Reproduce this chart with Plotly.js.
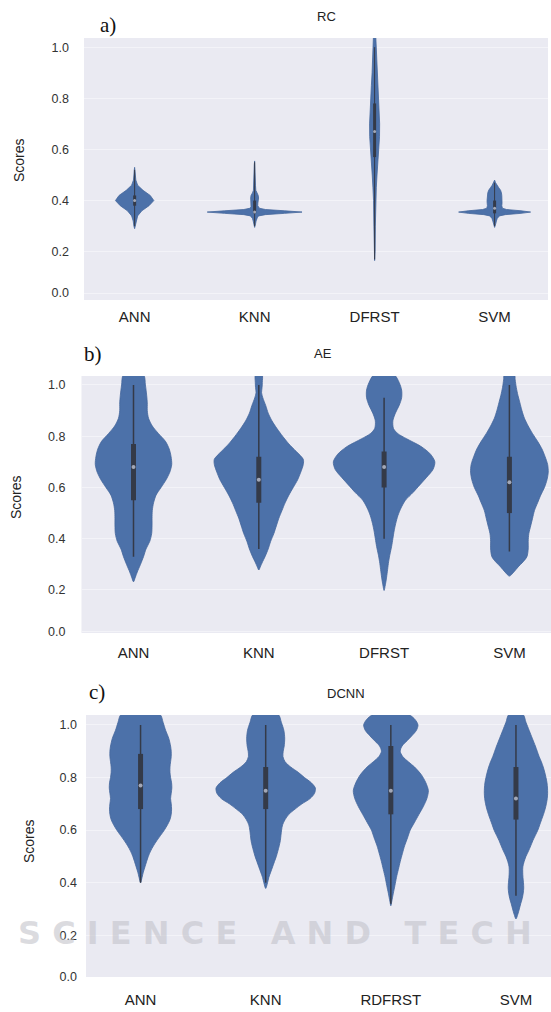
<!DOCTYPE html>
<html><head><meta charset="utf-8">
<script src="https://cdn.plot.ly/plotly-3.0.1.min.js"></script>
<style>html,body{margin:0;padding:0;background:#fff}#chart{width:551px;height:1012px}</style>
</head><body><div id="chart"></div>
<script>
// ---------------- DATA ----------------
const modelsA = ['ANN', 'KNN', 'DFRST', 'SVM'];
const modelsB = ['ANN', 'KNN', 'DFRST', 'SVM'];
const modelsC = ['ANN', 'KNN', 'RDFRST', 'SVM'];
const titles = ['RC', 'AE', 'DCNN'];
const panelTags = ['a)', 'b)', 'c)'];
const yTickVals = [0.2, 0.4, 0.6, 0.8, 1.0];
const yTickText = ['0.2', '0.4', '0.6', '0.8', '1.0'];

// violin density profiles: score levels and half-widths (category units)
// a) RC
const rcAnnScore = [0.29, 0.30, 0.32, 0.34, 0.36, 0.38, 0.40, 0.42, 0.44, 0.46, 0.48, 0.50, 0.52, 0.53];
const rcAnnWidth = [0, 0.006, 0.012, 0.025, 0.06, 0.12, 0.16, 0.13, 0.07, 0.025, 0.01, 0.006, 0.003, 0];
const rcKnnScore = [0.295, 0.30, 0.31, 0.32, 0.33, 0.335, 0.34, 0.345, 0.35, 0.355, 0.36, 0.365, 0.37, 0.375, 0.38, 0.39, 0.40, 0.41, 0.42, 0.43, 0.44, 0.46, 0.48, 0.50, 0.52, 0.54, 0.555];
const rcKnnWidth = [0, 0.004, 0.008, 0.012, 0.018, 0.024, 0.035, 0.09, 0.25, 0.395, 0.25, 0.09, 0.04, 0.03, 0.026, 0.027, 0.032, 0.033, 0.03, 0.018, 0.01, 0.007, 0.006, 0.006, 0.005, 0.003, 0];
const rcDfrScore = [0.165, 0.2, 0.3, 0.4, 0.45, 0.5, 0.55, 0.6, 0.65, 0.7, 0.75, 0.8, 0.85, 0.9, 0.95, 1.0, 1.04];
const rcDfrWidth = [0, 0.004, 0.006, 0.009, 0.014, 0.02, 0.028, 0.036, 0.041, 0.042, 0.038, 0.033, 0.027, 0.021, 0.016, 0.012, 0.01];
const rcSvmScore = [0.295, 0.30, 0.31, 0.32, 0.33, 0.34, 0.345, 0.35, 0.355, 0.36, 0.365, 0.37, 0.38, 0.39, 0.40, 0.41, 0.42, 0.43, 0.44, 0.45, 0.46, 0.47, 0.48];
const rcSvmWidth = [0, 0.005, 0.01, 0.015, 0.022, 0.04, 0.09, 0.22, 0.3, 0.22, 0.1, 0.065, 0.06, 0.062, 0.063, 0.062, 0.06, 0.057, 0.05, 0.035, 0.02, 0.008, 0];
const rcQ1 = [0.38, 0.35, 0.57, 0.35];
const rcMed = [0.40, 0.355, 0.67, 0.37];
const rcQ3 = [0.42, 0.40, 0.78, 0.40];
const rcLo = [0.30, 0.30, 0.17, 0.30];
const rcHi = [0.52, 0.55, 1.0, 0.47];

// b) AE
const aeAnnScore = [0.232, 0.25, 0.27, 0.30, 0.33, 0.36, 0.39, 0.42, 0.45, 0.48, 0.51, 0.54, 0.57, 0.60, 0.63, 0.66, 0.69, 0.72, 0.75, 0.78, 0.81, 0.84, 0.87, 0.90, 0.93, 0.96, 1.0, 1.04];
const aeAnnWidth = [0, 0.015, 0.03, 0.056, 0.08, 0.1, 0.13, 0.145, 0.148, 0.148, 0.15, 0.16, 0.18, 0.22, 0.26, 0.29, 0.305, 0.3, 0.285, 0.255, 0.2, 0.15, 0.12, 0.11, 0.11, 0.105, 0.095, 0.08];
const aeKnnScore = [0.278, 0.29, 0.31, 0.33, 0.36, 0.39, 0.42, 0.45, 0.48, 0.51, 0.54, 0.57, 0.60, 0.63, 0.66, 0.69, 0.71, 0.74, 0.77, 0.80, 0.83, 0.86, 0.89, 0.92, 0.95, 0.97, 0.99, 1.01, 1.04];
const aeKnnWidth = [0, 0.012, 0.03, 0.05, 0.075, 0.095, 0.12, 0.14, 0.16, 0.185, 0.21, 0.24, 0.275, 0.31, 0.335, 0.355, 0.355, 0.3, 0.24, 0.19, 0.145, 0.105, 0.075, 0.055, 0.032, 0.022, 0.026, 0.028, 0.026];
const aeDfrScore = [0.198, 0.22, 0.25, 0.28, 0.31, 0.34, 0.37, 0.40, 0.43, 0.46, 0.49, 0.52, 0.55, 0.58, 0.61, 0.64, 0.67, 0.70, 0.73, 0.76, 0.79, 0.81, 0.83, 0.86, 0.89, 0.92, 0.95, 0.98, 1.01, 1.04];
const aeDfrWidth = [0, 0.01, 0.02, 0.028, 0.036, 0.047, 0.06, 0.07, 0.08, 0.093, 0.11, 0.135, 0.17, 0.23, 0.285, 0.34, 0.39, 0.405, 0.37, 0.295, 0.18, 0.11, 0.075, 0.07, 0.09, 0.12, 0.14, 0.14, 0.12, 0.08];
const aeSvmScore = [0.254, 0.27, 0.29, 0.31, 0.33, 0.36, 0.39, 0.42, 0.45, 0.48, 0.51, 0.54, 0.57, 0.60, 0.63, 0.66, 0.69, 0.72, 0.75, 0.78, 0.81, 0.84, 0.87, 0.90, 0.93, 0.96, 0.99, 1.02, 1.04];
const aeSvmWidth = [0, 0.035, 0.07, 0.11, 0.14, 0.15, 0.15, 0.155, 0.17, 0.185, 0.2, 0.225, 0.25, 0.28, 0.3, 0.31, 0.305, 0.285, 0.26, 0.225, 0.185, 0.15, 0.12, 0.1, 0.084, 0.068, 0.055, 0.046, 0.04];
const aeQ1 = [0.55, 0.54, 0.60, 0.50];
const aeMed = [0.68, 0.63, 0.68, 0.62];
const aeQ3 = [0.77, 0.72, 0.74, 0.72];
const aeLo = [0.33, 0.36, 0.40, 0.35];
const aeHi = [1.0, 1.0, 0.95, 1.0];

// c) DCNN
const dcAnnScore = [0.40, 0.42, 0.44, 0.46, 0.48, 0.50, 0.52, 0.54, 0.56, 0.58, 0.60, 0.62, 0.64, 0.66, 0.68, 0.70, 0.72, 0.74, 0.76, 0.78, 0.80, 0.82, 0.84, 0.86, 0.88, 0.90, 0.92, 0.95, 0.98, 1.01, 1.04];
const dcAnnWidth = [0, 0.012, 0.022, 0.035, 0.048, 0.062, 0.08, 0.103, 0.13, 0.16, 0.19, 0.215, 0.235, 0.245, 0.248, 0.245, 0.24, 0.245, 0.25, 0.248, 0.24, 0.235, 0.235, 0.24, 0.245, 0.245, 0.24, 0.225, 0.2, 0.18, 0.155];
const dcKnnScore = [0.378, 0.40, 0.42, 0.44, 0.46, 0.48, 0.50, 0.52, 0.54, 0.56, 0.58, 0.60, 0.62, 0.64, 0.66, 0.68, 0.70, 0.72, 0.74, 0.76, 0.78, 0.80, 0.82, 0.84, 0.86, 0.88, 0.90, 0.92, 0.95, 0.98, 1.01, 1.04];
const dcKnnWidth = [0, 0.015, 0.025, 0.04, 0.055, 0.07, 0.085, 0.097, 0.108, 0.117, 0.122, 0.127, 0.135, 0.155, 0.185, 0.235, 0.29, 0.355, 0.39, 0.397, 0.365, 0.31, 0.26, 0.2, 0.155, 0.138, 0.14, 0.148, 0.152, 0.145, 0.125, 0.1];
const dcRdfScore = [0.312, 0.33, 0.36, 0.39, 0.42, 0.45, 0.48, 0.51, 0.54, 0.57, 0.60, 0.63, 0.66, 0.69, 0.72, 0.75, 0.78, 0.81, 0.84, 0.86, 0.88, 0.90, 0.92, 0.94, 0.96, 0.98, 1.00, 1.02, 1.04];
const dcRdfWidth = [0, 0.008, 0.02, 0.033, 0.045, 0.06, 0.075, 0.092, 0.11, 0.133, 0.155, 0.19, 0.225, 0.26, 0.288, 0.3, 0.28, 0.245, 0.19, 0.14, 0.095, 0.075, 0.09, 0.13, 0.17, 0.205, 0.217, 0.195, 0.14];
const dcSvmScore = [0.262, 0.28, 0.30, 0.32, 0.34, 0.36, 0.38, 0.40, 0.42, 0.44, 0.46, 0.48, 0.50, 0.52, 0.54, 0.56, 0.58, 0.60, 0.62, 0.64, 0.66, 0.68, 0.70, 0.72, 0.74, 0.76, 0.78, 0.80, 0.82, 0.84, 0.86, 0.88, 0.90, 0.92, 0.95, 0.98, 1.01, 1.04];
const dcSvmWidth = [0, 0.015, 0.027, 0.038, 0.05, 0.058, 0.062, 0.06, 0.056, 0.054, 0.055, 0.065, 0.08, 0.1, 0.118, 0.135, 0.155, 0.175, 0.19, 0.205, 0.22, 0.233, 0.243, 0.25, 0.253, 0.252, 0.248, 0.24, 0.23, 0.218, 0.203, 0.185, 0.17, 0.155, 0.13, 0.105, 0.08, 0.056];
const dcQ1 = [0.68, 0.68, 0.66, 0.64];
const dcMed = [0.77, 0.75, 0.75, 0.72];
const dcQ3 = [0.89, 0.84, 0.92, 0.84];
const dcLo = [0.40, 0.40, 0.32, 0.35];
const dcHi = [1.0, 1.0, 1.0, 1.0];

// ---------------- STYLE ----------------
const FILL = '#4c71a9';
const EDGE = '#45679c';
const INNER = '#343a48';
const traces = [];

function addPanel(models, profiles, q1, med, q3, lo, hi, xa, ya, st) {
  models.forEach((m, i) => {
    const s = profiles[i][0], w = profiles[i][1];
    const xs = [], ys = [];
    for (let k = 0; k < s.length; k++) { xs.push(i + w[k]); ys.push(s[k]); }
    for (let k = s.length - 1; k >= 0; k--) { xs.push(i - w[k]); ys.push(s[k]); }
    traces.push({type: 'scatter', x: xs, y: ys, xaxis: xa, yaxis: ya, mode: 'lines', fill: 'toself',
      fillcolor: FILL, line: {color: EDGE, width: 0.8, shape: st.shape, smoothing: st.smoothing},
      hoverinfo: 'skip', showlegend: false});
    traces.push({type: 'scatter', x: [i, i], y: [lo[i], hi[i]], xaxis: xa, yaxis: ya, mode: 'lines',
      line: {color: INNER, width: st.whisk}, hoverinfo: 'skip', showlegend: false});
    traces.push({type: 'scatter', x: [i, i], y: [q1[i], q3[i]], xaxis: xa, yaxis: ya, mode: 'lines',
      line: {color: INNER, width: st.box}, hoverinfo: 'skip', showlegend: false});
    traces.push({type: 'scatter', x: [i], y: [med[i]], xaxis: xa, yaxis: ya, mode: 'markers',
      marker: {color: 'rgba(200,205,220,0.75)', size: st.med}, hoverinfo: 'skip', showlegend: false});
  });
}

addPanel(modelsA, [[rcAnnScore, rcAnnWidth], [rcKnnScore, rcKnnWidth], [rcDfrScore, rcDfrWidth], [rcSvmScore, rcSvmWidth]],
  rcQ1, rcMed, rcQ3, rcLo, rcHi, 'x', 'y', {shape: 'linear', smoothing: 0, whisk: 1, box: 3, med: 3});
addPanel(modelsB, [[aeAnnScore, aeAnnWidth], [aeKnnScore, aeKnnWidth], [aeDfrScore, aeDfrWidth], [aeSvmScore, aeSvmWidth]],
  aeQ1, aeMed, aeQ3, aeLo, aeHi, 'x2', 'y2', {shape: 'spline', smoothing: 0.8, whisk: 1.5, box: 5, med: 4});
addPanel(modelsC, [[dcAnnScore, dcAnnWidth], [dcKnnScore, dcKnnWidth], [dcRdfScore, dcRdfWidth], [dcSvmScore, dcSvmWidth]],
  dcQ1, dcMed, dcQ3, dcLo, dcHi, 'x3', 'y3', {shape: 'spline', smoothing: 0.8, whisk: 1.5, box: 5, med: 4});

const H = 1012, W = 551;
const yp = px => 1 - px / H;
const xp = px => px / W;
const tickFontY = {family: 'Liberation Sans, Arial, sans-serif', size: 12.5, color: '#333'};
const tickFontX = {family: 'Liberation Sans, Arial, sans-serif', size: 15, color: '#222'};

function xAxis(dom, rng, models, anchor, standoff) {
  return {domain: dom, range: rng, tickvals: [0, 1, 2, 3], ticktext: models, showgrid: false, zeroline: false,
    showline: false, ticks: '', tickfont: tickFontX, ticklabelstandoff: standoff, anchor: anchor, fixedrange: true};
}
function yAxis(dom, rng, zeroPos, anchor, standoff) {
  return {domain: dom, range: rng, tickvals: [zeroPos].concat(yTickVals), ticktext: ['0.0'].concat(yTickText),
    showgrid: true, gridcolor: '#f3f3f8', gridwidth: 1, zeroline: false, showline: false, ticks: '',
    tickfont: tickFontY, ticklabelstandoff: standoff, anchor: anchor, fixedrange: true};
}

const ann = [];
function txt(text, x, y, font, angle) {
  ann.push({text: text, x: x, y: y, xref: 'paper', yref: 'paper', xanchor: 'center', yanchor: 'middle',
    showarrow: false, font: font, textangle: angle || 0});
}
const titleFont = {family: 'Liberation Sans, Arial, sans-serif', size: 13, color: '#222'};
const tagFont = {family: 'Liberation Serif, Times New Roman, serif', size: 21, color: '#111'};
const labFont = {family: 'Liberation Sans, Arial, sans-serif', size: 14, color: '#222'};
txt(titles[0], xp(326), yp(16), titleFont);
txt(titles[1], xp(323), yp(353), titleFont);
txt(titles[2], xp(346), yp(693), titleFont);
txt(panelTags[0], xp(108), yp(25), tagFont);
txt(panelTags[1], xp(93), yp(354), tagFont);
txt(panelTags[2], xp(97), yp(692), tagFont);
txt('Scores', xp(19), yp(160), labFont, -90);
txt('Scores', xp(16), yp(497), labFont, -90);
txt('Scores', xp(29), yp(841), labFont, -90);
// publisher watermark
ann.push({text: 'S C I E N C E   A N D   T E C H', x: xp(16), y: yp(933), xref: 'paper', yref: 'paper',
  xanchor: 'left', yanchor: 'middle', showarrow: false,
  font: {family: 'DejaVu Sans, sans-serif', size: 32, color: 'rgba(195,195,202,0.6)', weight: 'bold'}});

const layout = {
  width: W, height: H, margin: {l: 0, r: 0, t: 0, b: 0}, paper_bgcolor: '#ffffff', plot_bgcolor: '#eaeaf2',
  showlegend: false,
  xaxis: xAxis([xp(84), xp(548)], [-0.422, 3.445], modelsA, 'y', 6),
  yaxis: yAxis([yp(300), yp(38)], [0.011, 1.036], 0.038, 'x', 14),
  xaxis2: xAxis([xp(81.5), 1], [-0.415, 3.332], modelsB, 'y2', 9),
  yaxis2: yAxis([yp(633), yp(376)], [0.032, 1.035], 0.037, 'x2', 15),
  xaxis3: xAxis([xp(86), 1], [-0.436, 3.28], modelsC, 'y3', 12),
  yaxis3: yAxis([yp(977), yp(715)], [0.041, 1.038], 0.043, 'x3', 8),
  annotations: ann
};
Plotly.newPlot('chart', traces, layout, {staticPlot: true, displayModeBar: false});
</script></body></html>
